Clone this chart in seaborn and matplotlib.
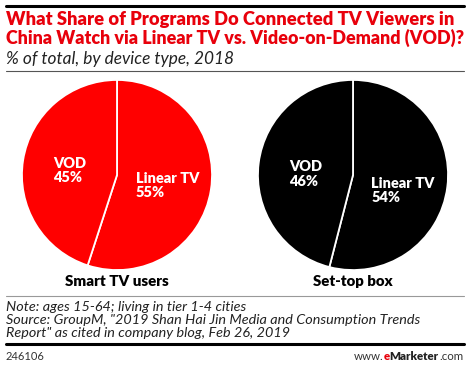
import matplotlib
matplotlib.use("Agg")
import matplotlib.pyplot as plt
import seaborn as sns
from matplotlib.lines import Line2D

sns.set_theme(style="white")
plt.rcParams['font.family'] = ['Lato', 'DejaVu Sans']

devices = ["Smart TV users", "Set-top box"]
categories = ["Linear TV", "VOD"]
linear_share = [55, 54]
vod_share = [45, 46]
colors = ["#ff0000", "#000000"]

W, H = 470, 366
fig = plt.figure(figsize=(W / 100, H / 100), dpi=100)
fig.canvas.draw()
renderer = fig.canvas.get_renderer()


def fx(px):
    return px / W


def fy(py):
    return 1 - py / H


def fit_text(x, y, s, width_px, **kw):
    t = fig.text(fx(x), fy(y), s, fontsize=10, **kw)
    w = t.get_window_extent(renderer).width
    t.set_fontsize(10 * width_px / w)
    return t


# top rule
fig.add_artist(Line2D([fx(6), fx(464)], [fy(6), fy(6)], color="black", lw=2.2))
fit_text(6, 20, "What Share of Programs Do Connected TV Viewers in", 449,
         color="#e8000b", fontweight="heavy", va="center", ha="left")
fit_text(6, 38, "China Watch via Linear TV vs. Video-on-Demand (VOD)?", 457,
         color="#e8000b", fontweight="heavy", va="center", ha="left")
fit_text(6, 59, "% of total, by device type, 2018", 227,
         color="#222222", fontstyle="italic", va="center", ha="left")
fig.add_artist(Line2D([fx(6), fx(464)], [fy(71), fy(71)], color="#555555", lw=0.8))

# measure pie label font size so "Linear TV" is about 63 px wide
probe = fig.text(0, 0, "Linear TV", fontsize=10, fontweight="heavy")
lab_fs = 10 * 63 / probe.get_window_extent(renderer).width
probe.remove()

centers = [(117, 175), (353, 175)]
R = 96
label_pos = {
    0: {"VOD": (-0.67, 0.05), "Linear TV": (0.20, -0.11)},
    1: {"VOD": (-0.67, 0.01), "Linear TV": (0.19, -0.16)},
}
for i, (cx, cy) in enumerate(centers):
    ax = fig.add_axes([fx(cx - R), fy(cy + R), 2 * R / W, 2 * R / H])
    vals = [linear_share[i], vod_share[i]]
    ax.pie(vals, startangle=90, counterclock=False, colors=[colors[i], colors[i]],
           wedgeprops=dict(edgecolor="white", linewidth=1.3), radius=1)
    ax.set_xlim(-1.01, 1.01)
    ax.set_ylim(-1.01, 1.01)
    ax.axis("off")
    for cat, v in zip(categories, vals):
        x, y = label_pos[i][cat]
        ax.text(x, y, f"{cat}\n{v}%", color="white", fontsize=lab_fs, fontweight="heavy",
                ha="left", va="center", linespacing=1.1)
    fit_text(cx, 282, devices[i], 104 if i == 0 else 80, fontweight="heavy",
             ha="center", va="center", color="black")

fig.add_artist(Line2D([fx(6), fx(464)], [fy(296), fy(296)], color="#999999", lw=0.8))
note_kw = dict(fontstyle="italic", color="#222222", va="center")
t = fit_text(6, 307, 'Source: GroupM, "2019 Shan Hai Jin Media and Consumption Trends', 414, **note_kw)
t.set_y(fy(320))
fs = t.get_fontsize()
fig.text(fx(6), fy(307), "Note: ages 15-64; living in tier 1-4 cities", fontsize=fs, **note_kw)
fig.text(fx(6), fy(333), 'Report" as cited in company blog, Feb 26, 2019', fontsize=fs, **note_kw)
fig.add_artist(Line2D([fx(6), fx(464)], [fy(344), fy(344)], color="black", lw=2.2))
fig.text(fx(6), fy(356), "246106", fontsize=8, color="#333333", va="center")

parts = [("www.", "#333333", "normal"), ("e", "#e8000b", "heavy"),
         ("Marketer", "#222222", "heavy"), (".com", "#333333", "normal")]
texts = []
for s, c, w in parts:
    t = fig.text(0, fy(356), s, fontsize=8.3, color=c, fontweight=w, va="center", ha="left")
    texts.append(t)
widths = [t.get_window_extent(renderer).width for t in texts]
x = 463 - sum(widths)
for t, wd in zip(texts, widths):
    t.set_x(fx(x))
    x += wd

fig.savefig("out.png", dpi=100)
